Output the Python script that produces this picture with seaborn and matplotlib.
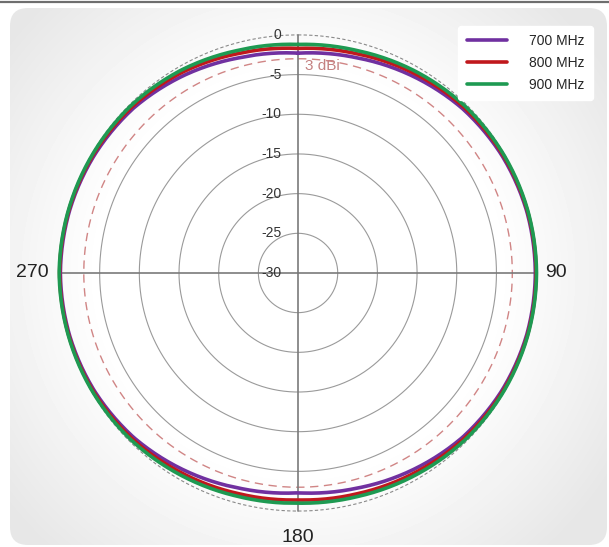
import numpy as np
import pandas as pd
import matplotlib
matplotlib.use("Agg")
import matplotlib.pyplot as plt
import seaborn as sns
from matplotlib.patches import FancyBboxPatch

# Antenna pattern data (dB), angle measured clockwise from top
angles = list(range(0, 360, 15))
gain_700 = [-2.3, -1.9, -1.3, -0.7, -0.35, -0.15, -0.1, -0.15, -0.35, -0.7, -1.3, -1.9,
            -2.3, -1.9, -1.3, -0.7, -0.35, -0.15, -0.05, -0.15, -0.35, -0.65, -1.25, -1.9]
gain_800 = [-1.7, -1.4, -0.9, -0.45, -0.2, -0.05, 0.0, -0.05, -0.2, -0.45, -0.85, -1.2,
            -1.4, -1.2, -0.85, -0.45, -0.2, -0.05, 0.05, -0.05, -0.2, -0.4, -0.8, -1.35]
gain_900 = [-1.2, -1.0, -0.6, -0.25, -0.1, 0.0, 0.05, 0.0, -0.1, -0.25, -0.55, -0.85,
            -1.0, -0.85, -0.55, -0.25, -0.1, 0.0, 0.1, 0.0, -0.1, -0.2, -0.5, -0.95]
freqs = ["700 MHz", "800 MHz", "900 MHz"]
colors = {"700 MHz": "#7030a0", "800 MHz": "#c0181c", "900 MHz": "#1e9a52"}

rings = [-25, -20, -15, -10, -5]
ring_labels = [0, -5, -10, -15, -20, -25, -30]
ref_ring = -3
angle_labels = {90: ("90", 14.4), 180: ("180", 18.7), 270: ("270", 20.0)}

rows = []
for f, g in zip(freqs, [gain_700, gain_800, gain_900]):
    for a, v in zip(angles + [360], g + [g[0]]):
        rows.append({"theta": np.deg2rad(a), "gain": v, "Frequency": f})
df = pd.DataFrame(rows)

sns.set_theme(style="white")
plt.rcParams["font.family"] = ["Liberation Sans", "DejaVu Sans"]

fig = plt.figure(figsize=(6.09, 5.47), dpi=100, facecolor="white")

# background panel with soft radial gradient
bg = fig.add_axes([0, 0, 1, 1], zorder=0)
bg.set_xlim(0, 609)
bg.set_ylim(547, 0)
yy, xx = np.mgrid[0:547, 0:609]
d = np.hypot(xx - 298, yy - 273)
shade = 1 - np.clip((d - 200) / 170, 0, 1) * 0.095
im = bg.imshow(shade, cmap="gray", vmin=0, vmax=1, extent=(0, 609, 547, 0))
panel = FancyBboxPatch((10, 8), 597, 537, boxstyle="round,pad=0,rounding_size=18",
                       transform=bg.transData, facecolor="none", edgecolor="none")
bg.add_patch(panel)
im.set_clip_path(panel)
bg.axhline(2, color="#6e6e6e", lw=1.6)
bg.axis("off")

ax = fig.add_axes([0.0854, 0.0512, 0.808, 0.8995], projection="polar", zorder=1)
ax.set_facecolor("none")
ax.set_theta_zero_location("N")
ax.set_theta_direction(-1)
ax.set_ylim(-30, 1)
ax.grid(False)
ax.spines["polar"].set_visible(False)
ax.set_yticks([])
ax.set_xticks([])

full = np.linspace(0, 2 * np.pi, 400)
for r in rings:
    ax.plot(full, np.full_like(full, r), color="#9a9a9a", lw=0.8, zorder=1)
ax.plot(full, np.zeros_like(full), color="#8a8a8a", lw=0.8, ls=(0, (3, 2)), zorder=1)
ax.plot(full, np.full_like(full, ref_ring), color="#d08585", lw=1.0, ls=(0, (6, 4)), zorder=1)

for a in [0, 90, 180, 270]:
    t = np.deg2rad(a)
    ax.plot([t, t], [-30, 0], color="#7a7a7a", lw=1.2, zorder=2)

n_before = len(ax.lines)
sns.lineplot(data=df, x="theta", y="gain", hue="Frequency", palette=colors,
             sort=False, estimator=None, lw=2.6, ax=ax, zorder=3)
# let the polar transform draw arcs between readings
for line in ax.lines[n_before:]:
    line.get_path()._interpolation_steps = 30
ax.set_xlabel("")
ax.set_ylabel("")

for r in ring_labels:
    ax.annotate(str(r), xy=(0, r), xytext=(-12, 0), textcoords="offset points",
                ha="right", va="center", fontsize=10, color="#333333", zorder=4)
ax.annotate("3 dBi", xy=(0, ref_ring), xytext=(5, -5.5), textcoords="offset points",
            ha="left", va="center", fontsize=11, color="#c48080", zorder=4)

for a, (txt, off) in angle_labels.items():
    t = np.deg2rad(a)
    ax.annotate(txt, xy=(t, 0), xytext=(off * np.sin(t), off * np.cos(t)),
                textcoords="offset points", ha="center", va="center",
                fontsize=14, color="#222222", annotation_clip=False)

h, l = ax.get_legend_handles_labels()
leg = ax.legend(h, l, loc="upper right", bbox_to_anchor=(600 / 609, 1 - 19 / 547),
                bbox_transform=fig.transFigure, fontsize=10, frameon=True,
                handlelength=2.9, handletextpad=1.6, labelspacing=0.55,
                borderpad=0.6, fancybox=True)
leg.get_frame().set_facecolor("white")
leg.get_frame().set_edgecolor("white")
leg.get_frame().set_alpha(1)
for line in leg.get_lines():
    line.set_linewidth(2.6)

fig.savefig("out.png", dpi=100)
